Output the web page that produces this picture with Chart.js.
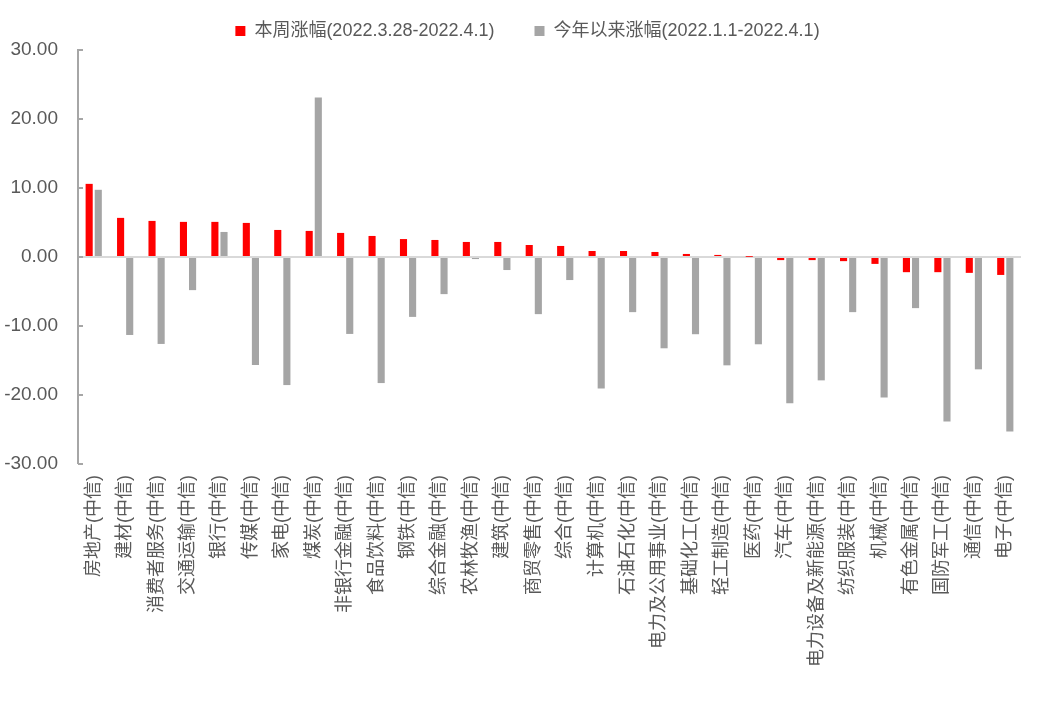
<!DOCTYPE html>
<html>
<head>
<meta charset="utf-8">
<script src="https://cdn.jsdelivr.net/npm/chart.js@4.4.1/dist/chart.umd.min.js"></script>
<style>
    html, body { margin: 0; padding: 0; background: #ffffff; }
    #wrap { width: 1045px; height: 712px; }
</style>
</head>
<body>
<div id="wrap"><canvas id="chartIndustries"></canvas></div>
<script>
// Données (%)
const categories = [
    "房地产(中信)", "建材(中信)", "消费者服务(中信)", "交通运输(中信)", "银行(中信)",
    "传媒(中信)", "家电(中信)", "煤炭(中信)", "非银行金融(中信)", "食品饮料(中信)",
    "钢铁(中信)", "综合金融(中信)", "农林牧渔(中信)", "建筑(中信)", "商贸零售(中信)",
    "综合(中信)", "计算机(中信)", "石油石化(中信)", "电力及公用事业(中信)", "基础化工(中信)",
    "轻工制造(中信)", "医药(中信)", "汽车(中信)", "电力设备及新能源(中信)", "纺织服装(中信)",
    "机械(中信)", "有色金属(中信)", "国防军工(中信)", "通信(中信)", "电子(中信)"
];
const weeklyChange = [
    10.6, 5.67, 5.23, 5.09, 5.09, 4.94, 3.92, 3.78, 3.49, 3.05,
    2.6, 2.47, 2.18, 2.18, 1.74, 1.6, 0.87, 0.87, 0.73, 0.44,
    0.3, 0.03, -0.45, -0.45, -0.6, -1.0, -2.2, -2.2, -2.3, -2.6
];
const ytdChange = [
    9.74, -11.3, -12.6, -4.8, 3.63, -15.65, -18.56, 23.1, -11.15, -18.27,
    -8.68, -5.38, -0.3, -1.89, -8.28, -3.34, -19.04, -7.99, -13.23, -11.19,
    -15.7, -12.65, -21.2, -17.88, -7.99, -20.35, -7.41, -23.84, -16.28, -25.29
];
const seriesLabels = ["本周涨幅(2022.3.28-2022.4.1)", "今年以来涨幅(2022.1.1-2022.4.1)"];
const yTicks = [-30, -20, -10, 0, 10, 20, 30];

document.addEventListener("DOMContentLoaded", () => {
    if (typeof Chart === "undefined") return;

    const txt = "#595959";
    const fontFamily = "'Liberation Sans', 'Noto Sans CJK SC', sans-serif";
    const legendGap = 40;

    // réglages de la légende + petits traits de graduation vers l'intérieur (style Excel)
    const excelLook = {
        id: "excelLook",
        afterInit(chart) {
            // grand écart entre items, mais hauteur de légende fixée
            const legend = chart.legend;
            if (!legend) return;
            const origFit = legend.fit.bind(legend);
            legend.fit = function () {
                origFit();
                this.height = 68;
            };
        },
        afterLayout(chart) {
            // décale la légende un peu vers la droite
            if (!chart.legend) return;
            chart.legend.left += 17;
            chart.legend.right += 17;
        },
        afterDraw(chart) {
            const y = chart.scales.y;
            const ctx = chart.ctx;
            ctx.save();
            ctx.strokeStyle = "#a6a6a6";
            ctx.lineWidth = 2;
            y.ticks.forEach((t) => {
                const py = Math.round(y.getPixelForValue(t.value));
                ctx.beginPath();
                ctx.moveTo(y.right, py);
                ctx.lineTo(y.right + 5, py);
                ctx.stroke();
            });
            ctx.restore();
        },
    };

    new Chart(document.getElementById("chartIndustries"), {
        type: "bar",
        data: {
            labels: categories,
            datasets: [
                {
                    label: seriesLabels[0],
                    data: weeklyChange,
                    backgroundColor: "#ff0000",
                    categoryPercentage: 0.58,
                    barPercentage: 0.78,
                },
                {
                    label: seriesLabels[1],
                    data: ytdChange,
                    backgroundColor: "#a5a5a5",
                    categoryPercentage: 0.58,
                    barPercentage: 0.78,
                },
            ],
        },
        options: {
            responsive: true,
            maintainAspectRatio: false,
            animation: false,
            layout: { padding: { top: -18, left: 0, right: 24, bottom: 0 } },
            plugins: {
                legend: {
                    position: "top",
                    labels: {
                        color: txt,
                        boxWidth: 10,
                        boxHeight: 10,
                        padding: legendGap,
                        font: { family: fontFamily, size: 18 },
                    },
                },
                tooltip: { enabled: false },
            },
            scales: {
                x: {
                    grid: { display: false },
                    border: { display: false },
                    ticks: {
                        color: txt,
                        autoSkip: false,
                        maxRotation: 90,
                        minRotation: 90,
                        padding: 3,
                        font: { family: fontFamily, size: 18 },
                    },
                    afterFit(scale) { scale.height = 248; },
                },
                y: {
                    min: -30,
                    max: 30,
                    afterBuildTicks(scale) {
                        scale.ticks = yTicks.map((v) => ({ value: v }));
                    },
                    grid: {
                        drawTicks: false,
                        color: (c) => (c.tick && c.tick.value === 0 ? "#d9d9d9" : "rgba(0,0,0,0)"),
                        lineWidth: (c) => (c.tick && c.tick.value === 0 ? 2 : 0),
                    },
                    border: { color: "#a6a6a6", width: 2 },
                    ticks: {
                        color: txt,
                        padding: 20,
                        font: { family: fontFamily, size: 19 },
                        callback: (v) => Number(v).toFixed(2),
                    },
                    afterFit(scale) { scale.width = 78; },
                },
            },
        },
        plugins: [excelLook],
    });
});
</script>
</body>
</html>
